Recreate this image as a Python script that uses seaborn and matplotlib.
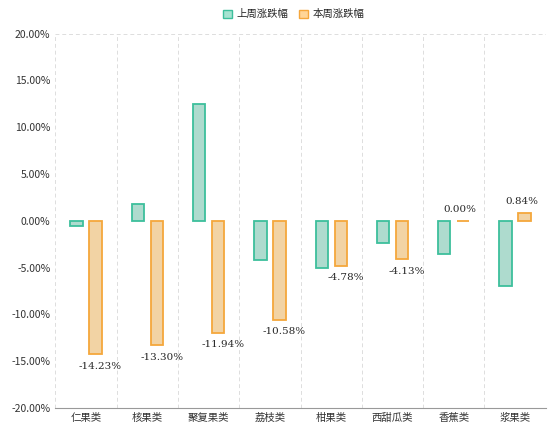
import numpy as np
import pandas as pd
import seaborn as sns
import matplotlib.pyplot as plt
from matplotlib.patches import Patch
from matplotlib.ticker import FuncFormatter

categories = ['仁果类', '核果类', '聚复果类', '荔枝类', '柑果类', '西甜瓜类', '香蕉类', '浆果类']
last_week = [-0.5, 1.8, 12.5, -4.2, -5.0, -2.4, -3.5, -7.0]
this_week = [-14.23, -13.30, -11.94, -10.58, -4.78, -4.13, 0.00, 0.84]
series_names = ['上周涨跌幅', '本周涨跌幅']

sns.set_style('white')
plt.rcParams['font.family'] = ['Noto Sans CJK SC', 'DejaVu Sans']

df = pd.DataFrame({'cat': categories * 2,
                   'val': last_week + this_week,
                   'series': [series_names[0]] * 8 + [series_names[1]] * 8})

fig, ax = plt.subplots(figsize=(5.54, 4.47), dpi=100)
fig.subplots_adjust(left=0.1, right=0.985, top=0.925, bottom=0.087)

fills = ['#a6e3d1', '#ffd597']
edges = ['#3dbf9c', '#f5a73c']
sns.barplot(data=df, x='cat', y='val', hue='series', palette=fills,
            width=0.62, gap=0.35, ax=ax, legend=False, linewidth=1.3)
for i, p in enumerate(ax.patches[:16]):
    p.set_edgecolor(edges[i // 8])

bars2 = ax.patches[8:16]
for p, v in zip(bars2, this_week):
    x = p.get_x() + p.get_width() / 2
    if v < 0:
        ax.text(x + 0.08, v - 0.8, f'{v:.2f}%', ha='center', va='top',
                fontsize=7.5, family='DejaVu Serif')
    else:
        ax.text(x - 0.05, v + 0.7, f'{v:.2f}%', ha='center', va='bottom',
                fontsize=7.5, family='DejaVu Serif')

ax.set_ylim(-20, 20)
ax.set_yticks(np.arange(-20, 21, 5))
ax.yaxis.set_major_formatter(FuncFormatter(lambda v, _: f'{v:.2f}%'))
ax.set_xlim(-0.5, 7.5)
ax.set_xlabel('')
ax.set_ylabel('')
ax.tick_params(labelsize=7.5, colors='#333333', length=0)
for x in np.arange(-0.5, 8, 1):
    ax.axvline(x, color='#dddddd', ls=(0, (4, 3)), lw=0.7, zorder=0)
ax.axhline(20, color='#dddddd', ls=(0, (4, 3)), lw=0.7, zorder=0)
for s in ['top', 'right', 'left']:
    ax.spines[s].set_visible(False)
ax.spines['bottom'].set_color('#999999')
ax.spines['bottom'].set_position(('data', -20))

handles = [Patch(facecolor=f, edgecolor=e, label=n) for f, e, n in zip(fills, edges, series_names)]
fig.legend(handles=handles, loc='upper center', ncol=2, frameon=False,
           fontsize=7.5, handlelength=0.9, handleheight=0.9,
           bbox_to_anchor=(0.53, 1.0), columnspacing=1.0, handletextpad=0.4)

fig.savefig('out.png', dpi=100)
